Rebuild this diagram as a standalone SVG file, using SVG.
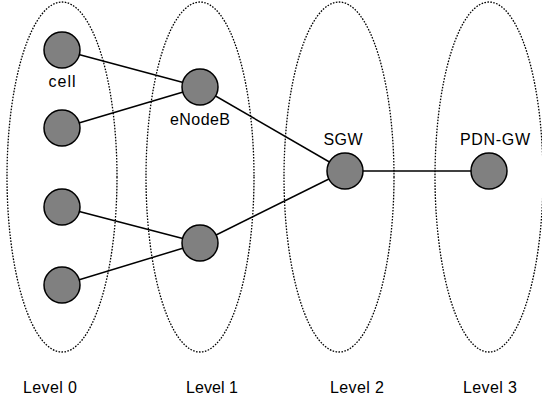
<svg xmlns="http://www.w3.org/2000/svg" width="542" height="401" viewBox="0 0 542 401">
<style>
.lvl{fill:none;stroke:#000;stroke-width:1.3;stroke-dasharray:1.6 1.4}
.n{fill:#808080;stroke:#000;stroke-width:1.5}
.e{stroke:#000;stroke-width:1.5;fill:none}
text{font-family:"Liberation Sans",Arial,sans-serif;font-size:16px;fill:#000;text-anchor:middle}
</style>
<rect width="542" height="401" fill="#fff"/>
<g id="levels">
<ellipse class="lvl" cx="62" cy="177" rx="55" ry="175"/>
<ellipse class="lvl" cx="200" cy="177" rx="54" ry="175"/>
<ellipse class="lvl" cx="339" cy="177" rx="55" ry="175"/>
<ellipse class="lvl" cx="489" cy="177" rx="54" ry="175"/>
</g>
<g id="connectors">
<line class="e" x1="62" y1="50" x2="200" y2="87"/>
<line class="e" x1="62" y1="128" x2="200" y2="87"/>
<line class="e" x1="62" y1="207" x2="200" y2="243"/>
<line class="e" x1="62" y1="285" x2="200" y2="243"/>
<line class="e" x1="200" y1="87" x2="345" y2="171"/>
<line class="e" x1="200" y1="243" x2="345" y2="171"/>
<line class="e" x1="345" y1="171" x2="489" y2="171"/>
</g>
<g id="cell1"><circle class="n" cx="62" cy="50" r="18"/><text x="62" y="87" textLength="27">cell</text></g>
<g id="cell2"><circle class="n" cx="62" cy="128" r="18"/></g>
<g id="cell3"><circle class="n" cx="62" cy="207" r="18"/></g>
<g id="cell4"><circle class="n" cx="62" cy="285" r="18"/></g>
<g id="enb1"><circle class="n" cx="200" cy="87" r="18"/><text x="200" y="125" textLength="60">eNodeB</text></g>
<g id="enb2"><circle class="n" cx="200" cy="243" r="18"/></g>
<g id="sgw"><circle class="n" cx="345" cy="171" r="18"/><text x="343" y="145" textLength="39">SGW</text></g>
<g id="pdngw"><circle class="n" cx="489" cy="171" r="18"/><text x="495" y="145" textLength="70">PDN-GW</text></g>
<g id="labels">
<text x="50" y="393" textLength="54">Level 0</text>
<text x="212" y="393" textLength="52">Level 1</text>
<text x="357" y="393" textLength="54">Level 2</text>
<text x="490" y="393" textLength="54">Level 3</text>
</g>
</svg>
